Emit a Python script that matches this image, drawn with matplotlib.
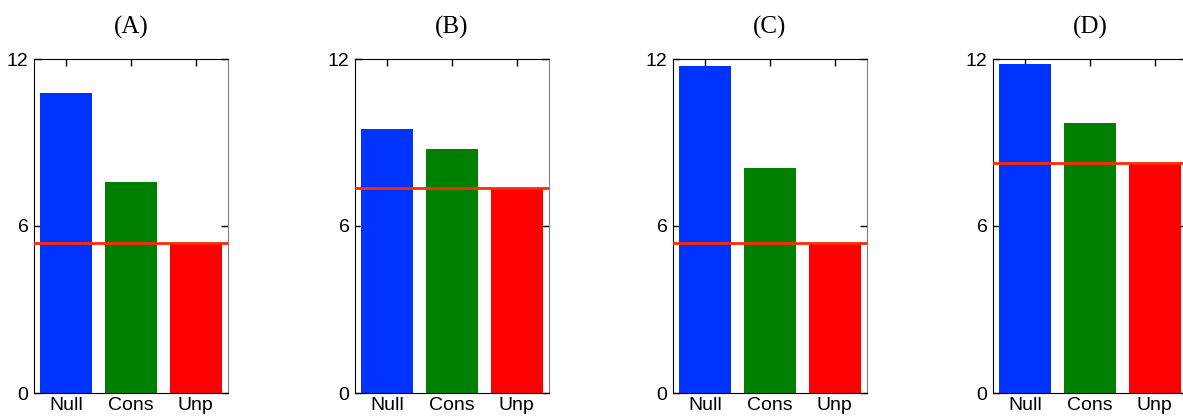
from matplotlib import pyplot as plt
import numpy as np

# values
panels = ['(A)', '(B)', '(C)', '(D)']
categories = ['Null', 'Cons', 'Unp']
null_vals = [10.78, 9.49, 11.75, 11.82]
cons_vals = [7.58, 8.77, 8.08, 9.70]
unp_vals = [5.35, 7.37, 5.35, 8.23]
ref_line = [5.39, 7.37, 5.39, 8.26]
yticks = [0, 6, 12]

bar_colors = ['#0033ff', '#008000', '#ff0000']

fig = plt.figure(figsize=(11.83, 4.16), dpi=100)

lefts = [34, 355, 673, 993]
W, H = 1183, 416

for i, lab in enumerate(panels):
    ax = fig.add_axes([lefts[i] / W, 1 - 393 / H, 194 / W, 334 / H])
    vals = [null_vals[i], cons_vals[i], unp_vals[i]]
    x = np.arange(len(categories))
    ax.bar(x, vals, width=0.8, color=bar_colors, zorder=2)
    ax.axhline(ref_line[i], color='#ff2a00', lw=2.0, zorder=3)
    ax.set_xlim(-0.5, 2.5)
    ax.set_ylim(0, 12)
    ax.set_xticks(x)
    ax.set_xticklabels(categories, family='Liberation Sans', fontsize=14)
    ax.set_yticks(yticks)
    ax.set_yticklabels([str(t) for t in yticks], family='Liberation Sans', fontsize=14)
    ax.tick_params(direction='in', top=True, right=True, length=5, width=1, pad=3)
    ax.tick_params(axis='y', pad=4)
    ax.spines['right'].set_color('#808080')
    ax.set_title(lab, family='Liberation Serif', fontsize=18, pad=18)

fig.savefig('out.png', dpi=100)
